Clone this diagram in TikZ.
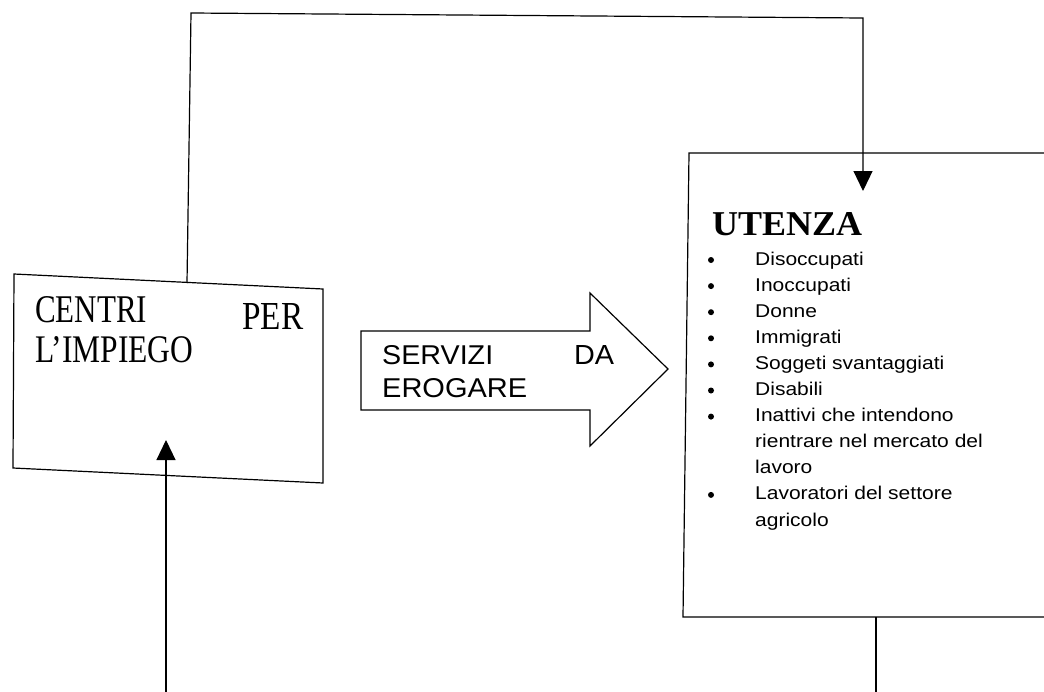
\documentclass[tikz,border=0pt]{standalone}
\usepackage{fontspec}
\usepackage{graphicx}
\setmainfont{Liberation Serif}
\newfontfamily\arialf{Liberation Sans}
\usetikzlibrary{arrows.meta}
\newcommand\vsq[2]{\scalebox{1}[#1]{#2}}
\newcommand\fitbox[3]{\resizebox{#1pt}{#2pt}{#3}}
\tikzset{
  conn/.style={line width=1.2pt, line join=miter},
  arr/.style={conn, -{Triangle[length=20pt,width=19pt]}},
  serif/.style={anchor=base west, inner sep=0pt, font=\fontsize{31}{31}\selectfont},
  sanslbl/.style={anchor=base west, inner sep=0pt, font=\arialf\fontsize{28}{28}\selectfont},
  titlelbl/.style={anchor=base west, inner sep=0pt, font=\bfseries\fontsize{36}{36}\selectfont},
  item/.style={anchor=base west, inner sep=0pt, font=\arialf\fontsize{21}{21}\selectfont},
  dot/.style={circle, fill=black, inner sep=0pt, minimum size=6pt},
}
\begin{document}
\begin{tikzpicture}[x=1pt,y=-1pt]
\useasboundingbox (0,0) rectangle (1044,691);
\clip (0,0) rectangle (1044,691);
\fill[white] (0,0) rectangle (1044,691);

% left box (Centri per l'impiego)
\coordinate (lA) at (14,274);
\coordinate (lB) at (323,289);
\coordinate (lC) at (323,483);
\coordinate (lD) at (13,468);
\draw[conn] (lA) -- (lB) -- (lC) -- (lD) -- cycle;
\coordinate (ltop) at (187,283);
\coordinate (ltip) at (166,440);

\node[serif] (centri) at (35,322) {\fitbox{112}{26}{CENTRI}};
\node[serif] (per) at (242,329) {\fitbox{61}{26}{PER}};
\node[serif] (impiego) at (35,362) {\fitbox{158}{26}{L’IMPIEGO}};

% right box (Utenza)
\coordinate (rA) at (689,153);
\coordinate (rD) at (683,617);
\draw[conn] (1060,153) -- (rA) -- (rD) -- (1060,617);
\coordinate (rtip) at (863,191);
\coordinate (rbot) at (876,617);

\node[titlelbl] (utenza) at (712,235) {\fitbox{150}{23}{UTENZA}};

\foreach \i/\t/\bul in {
  0/Disoccupati/1,
  1/Inoccupati/1,
  2/Donne/1,
  3/Immigrati/1,
  4/Soggeti svantaggiati/1,
  5/Disabili/1,
  6/Inattivi che intendono/1,
  7/rientrare nel mercato del/0,
  8/lavoro/0,
  9/Lavoratori del settore/1,
  10/agricolo/0}{
  \pgfmathsetmacro\b{265+26.1*\i}
  \node[item] (it\i) at (755,\b) {\vsq{0.88}{\t}};
  \ifnum\bul=1 \node[dot] (bu\i) at (711,\b-5) {};\fi
}

% block arrow
\coordinate (a1) at (361,331);
\coordinate (a2) at (590,331);
\coordinate (a3) at (590,293);
\coordinate (a4) at (668,369);
\coordinate (a5) at (590,446);
\coordinate (a6) at (590,410);
\coordinate (a7) at (361,410);
\draw[conn] (a1) -- (a2) -- (a3) -- (a4) -- (a5) -- (a6) -- (a7) -- cycle;
\node[sanslbl] (servizi) at (382,364) {\fitbox{111}{19}{SERVIZI}};
\node[sanslbl] (da) at (574,364) {\fitbox{40}{19}{DA}};
\node[sanslbl] (erogare) at (382,397) {\fitbox{145}{19}{EROGARE}};

% connectors
\coordinate (k1) at (191,13);
\coordinate (k2) at (863,18);
\draw[arr] (ltop) -- (k1) -- (k2) -- (rtip);
\coordinate (b0) at (166,695);
\draw[arr] (b0) -- (ltip);
\coordinate (b1) at (876,695);
\draw[conn] (rbot) -- (b1);
\end{tikzpicture}
\end{document}
